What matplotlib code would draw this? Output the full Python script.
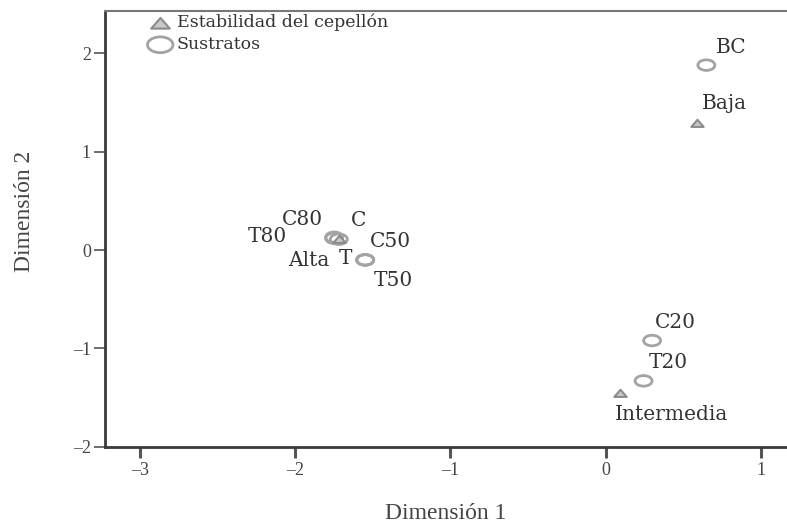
import numpy as np
import matplotlib
matplotlib.use("Agg")
import matplotlib.pyplot as plt
from matplotlib.path import Path
from matplotlib.transforms import Affine2D

# Sustratos (coordenadas en las dos dimensiones)
sustratos = ["BC", "C20", "T20", "C50", "T50", "T", "C80", "T80", "C"]
sus_dim1 = [0.65, 0.30, 0.245, -1.55, -1.55, -1.55, -1.75, -1.75, -1.72]
sus_dim2 = [1.88, -0.92, -1.33, -0.10, -0.10, -0.10, 0.13, 0.12, 0.11]

# Estabilidad del cepellón
estabilidad = ["Baja", "Intermedia", "Alta"]
est_dim1 = [0.59, 0.09, -1.72]
est_dim2 = [1.29, -1.45, 0.11]

# desplazamiento de cada etiqueta respecto a su punto (pixeles)
desp = {
    "BC": (25, 18), "C20": (23, 18), "T20": (25, 18), "C50": (25, 18),
    "T50": (28, -21), "T": (-20, 1), "C80": (-32, 18), "T80": (-67, 2),
    "C": (20, 19), "Baja": (27, 20), "Intermedia": (52, -22), "Alta": (-30, -21),
}

# marcadores: elipse hueca y triangulo achatado
elipse = Path.unit_circle().transformed(Affine2D().scale(1.0, 0.62))
triangulo = Path([(-1, -0.55), (1, -0.55), (0, 0.6), (-1, -0.55)],
                 [Path.MOVETO, Path.LINETO, Path.LINETO, Path.CLOSEPOLY])

gris = "#a3a3a3"
fuente_txt = "DejaVu Serif"
fuente_eje = "Liberation Serif"

fig = plt.figure(figsize=(7.87, 5.25), dpi=100)
ax = fig.add_axes([0.133, 0.149, 0.867, 0.830])

ax.scatter(sus_dim1, sus_dim2, marker=elipse, s=150, facecolors="none",
           edgecolors=gris, linewidths=2, label="Sustratos", zorder=3)
ax.scatter(est_dim1, est_dim2, marker=triangulo, s=80, facecolors="#c8c8c8",
           edgecolors="#8c8c8c", linewidths=1.5, label="Estabilidad del cepellón",
           zorder=4)

for nom, x, y in zip(sustratos + estabilidad, sus_dim1 + est_dim1, sus_dim2 + est_dim2):
    ax.annotate(nom, (x, y), xytext=desp[nom], textcoords="offset pixels",
                ha="center", va="center", fontsize=14.5, family=fuente_txt,
                color="#333333")

ax.set_xlim(-3.23, 1.17)
ax.set_ylim(-2, 2.43)
ax.set_xticks([-3, -2, -1, 0, 1])
ax.set_yticks([-2, -1, 0, 1, 2])
ax.set_xticklabels(["–3", "–2", "–1", "0", "1"])
ax.set_yticklabels(["–2", "–1", "0", "1", "2"])
ax.tick_params(axis="x", length=8, width=2.2, color="#555555", pad=3,
               labelsize=13, labelcolor="#444444")
ax.tick_params(axis="y", length=8, width=1.2, color="#555555", pad=2,
               labelsize=13, labelcolor="#444444")
for lab in ax.get_xticklabels() + ax.get_yticklabels():
    lab.set_family(fuente_eje)

ax.spines["left"].set_linewidth(2)
ax.spines["bottom"].set_linewidth(2)
ax.spines["left"].set_color("#3a3a3a")
ax.spines["bottom"].set_color("#3a3a3a")
ax.spines["top"].set_linewidth(1.5)
ax.spines["top"].set_color("#777777")
ax.spines["right"].set_visible(False)

ax.set_xlabel("Dimensión 1", family=fuente_eje, fontsize=17, color="#444444")
ax.set_ylabel("Dimensión 2", family=fuente_eje, fontsize=17, color="#444444")
ax.xaxis.set_label_coords(0.5, -0.128)
ax.yaxis.set_label_coords(-0.102, 0.54)

h, l = ax.get_legend_handles_labels()
ax.legend(h[::-1], l[::-1], loc="upper left", bbox_to_anchor=(0.056, 1.01),
          frameon=False, markerscale=1.5, handletextpad=0.35, borderaxespad=0,
          labelspacing=0.3, handlelength=1.2,
          prop={"family": fuente_txt, "size": 12.5}, labelcolor="#333333")

fig.savefig("out.png", dpi=100)
